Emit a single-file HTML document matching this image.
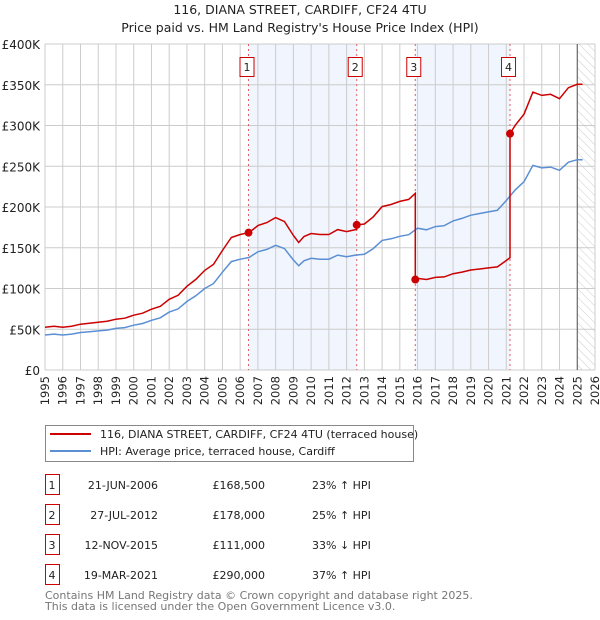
<!DOCTYPE html>
<html><head><meta charset="utf-8"><style>
body{margin:0;width:600px;height:620px;background:#fff;font-family:"DejaVu Sans","Liberation Sans",sans-serif;overflow:hidden}
svg{position:absolute;left:0;top:0}
</style></head><body>
<svg width="600" height="620" id="svg" font-family="DejaVu Sans, Liberation Sans, sans-serif">
<defs><pattern id="hatch" width="6" height="6" patternUnits="userSpaceOnUse" patternTransform="rotate(-45)"><line x1="0" y1="0" x2="0" y2="6" stroke="#ccc" stroke-width="1"/></pattern></defs>
<text x="300" y="14" text-anchor="middle" font-size="12.5" fill="#222">116, DIANA STREET, CARDIFF, CF24 4TU</text>
<text x="300" y="32" text-anchor="middle" font-size="12.5" fill="#222">Price paid vs. HM Land Registry's House Price Index (HPI)</text>
<g id="plot"></g>
<g>
<rect x="45.5" y="425.5" width="368" height="36" fill="#fff" stroke="#888"/>
<line x1="50" y1="434" x2="91" y2="434" stroke="#cc0000" stroke-width="2"/>
<text x="100" y="438" font-size="11" fill="#222">116, DIANA STREET, CARDIFF, CF24 4TU (terraced house)</text>
<line x1="50" y1="451" x2="91" y2="451" stroke="#5b8fd4" stroke-width="2"/>
<text x="100" y="455" font-size="11" fill="#222">HPI: Average price, terraced house, Cardiff</text>
</g>
<g id="table" font-size="11" fill="#222"></g>
<text x="45" y="599" font-size="11" fill="#777">Contains HM Land Registry data © Crown copyright and database right 2025.</text>
<text x="45" y="610" font-size="11" fill="#777">This data is licensed under the Open Government Licence v3.0.</text>
</svg>
<script>
const hpiYears=[1995,1995.5,1996,1996.5,1997,1997.5,1998,1998.5,1999,1999.5,2000,2000.5,2001,2001.5,2002,2002.5,2003,2003.5,2004,2004.5,2005,2005.5,2006,2006.5,2007,2007.5,2008,2008.5,2009,2009.3,2009.6,2010,2010.5,2011,2011.5,2012,2012.5,2013,2013.5,2014,2014.5,2015,2015.5,2016,2016.5,2017,2017.5,2018,2018.5,2019,2019.5,2020,2020.5,2021,2021.5,2022,2022.5,2023,2023.5,2024,2024.5,2025,2025.3];
const hpiValues=[43,44,43,44,46,47,48,49,51,52,55,57,61,64,71,75,84,91,100,106,120,133,136,138,145,148,153,149,135,128,134,137,136,136,141,139,141,142,149,159,161,164,166,174,172,176,177,183,186,190,192,194,196,208,221,231,251,248,249,245,255,258,258];
const saleDates=[2006.47,2012.57,2015.87,2021.21];
const salePrices=[168.5,178,111,290];
const saleLabels=["21-JUN-2006","27-JUL-2012","12-NOV-2015","19-MAR-2021"];
const salePriceText=["£168,500","£178,000","£111,000","£290,000"];
const saleHpiText=["23% ↑ HPI","25% ↑ HPI","33% ↓ HPI","37% ↑ HPI"];
const yTicks=[0,50,100,150,200,250,300,350,400];
const yTickLabels=["£0","£50K","£100K","£150K","£200K","£250K","£300K","£350K","£400K"];
const xTicks=[1995,1996,1997,1998,1999,2000,2001,2002,2003,2004,2005,2006,2007,2008,2009,2010,2011,2012,2013,2014,2015,2016,2017,2018,2019,2020,2021,2022,2023,2024,2025,2026];

const X0=45,X1=595,Y0=370,Y1=44;
const x=t=>X0+(t-1995)/31*(X1-X0);
const y=v=>Y0-v/400*(Y0-Y1);
const NS="http://www.w3.org/2000/svg";
const plot=document.getElementById('plot');
function mk(tag,attrs,parent){const e=document.createElementNS(NS,tag);for(const k in attrs)e.setAttribute(k,attrs[k]);(parent||plot).appendChild(e);return e;}
function hpiAt(t){for(let i=0;i<hpiYears.length-1;i++){if(t<=hpiYears[i+1]){const f=(t-hpiYears[i])/(hpiYears[i+1]-hpiYears[i]);return hpiValues[i]+f*(hpiValues[i+1]-hpiValues[i]);}}return hpiValues[hpiValues.length-1];}

for(let i=0;i<saleDates.length;i+=2){
 const r=mk('rect',{x:x(saleDates[i]),y:Y1,width:x(saleDates[i+1])-x(saleDates[i]),height:Y0-Y1,fill:'#eef3fd',opacity:0.8});
 
 
}
const hr=mk('rect',{x:x(2025),y:Y1,width:X1-x(2025),height:Y0-Y1,fill:'url(#hatch)'});


xTicks.forEach(t=>{const l=mk('line',{x1:x(t),x2:x(t),y1:Y1,y2:Y0,stroke:'#ccc','stroke-width':1});
 
 
 const tx=mk('text',{x:0,y:0,'text-anchor':'end','font-size':11.5,fill:'#222',transform:`translate(${x(t)+4},376) rotate(-90)`});tx.textContent=t;
 
 
});
yTicks.forEach((v,i)=>{const l=mk('line',{x1:X0,x2:X1,y1:y(v),y2:y(v),stroke:'#ccc','stroke-width':1});
 
 
 const tx=mk('text',{x:40,y:y(v)+5,'text-anchor':'end','font-size':12,fill:'#222'});tx.textContent=yTickLabels[i];
 
 
});
const nl=mk('line',{x1:x(2025),x2:x(2025),y1:Y1,y2:Y0,stroke:'#555','stroke-width':1});


saleDates.forEach((d,i)=>{const l=mk('line',{x1:x(d),x2:x(d),y1:Y1,y2:Y0,stroke:'#e06060','stroke-width':1,'stroke-dasharray':'2,3'});
 
 
 const b=mk('rect',{x:x(d)-8.5,y:57.5,width:14,height:19,fill:'#fff',stroke:'#cc0000'});
 
 
 const t=mk('text',{x:x(d)-1.5,y:71,'text-anchor':'middle','font-size':11,fill:'#222'});t.textContent=i+1;
 
 
});
let p=hpiYears.map((t,i)=>x(t).toFixed(1)+','+y(hpiValues[i]).toFixed(1)).join(' ');
const hl=mk('polyline',{points:p,fill:'none',stroke:'#5b8fd4','stroke-width':1.5});


const ratios=saleDates.map((d,i)=>salePrices[i]/hpiAt(d));
const pts=[];
const endT=hpiYears[hpiYears.length-1];
const bounds=[1995,...saleDates,endT];
for(let s=0;s<bounds.length-1;s++){
 const r=ratios[Math.max(0,s-1)];
 const a=bounds[s],b=bounds[s+1];
 const ts=[a,...hpiYears.filter(t=>t>a&&t<b),b];
 ts.forEach(t=>pts.push([x(t),y(hpiAt(t)*r)]));
}
const rl=mk('polyline',{points:pts.map(q=>q[0].toFixed(1)+','+q[1].toFixed(1)).join(' '),fill:'none',stroke:'#cc0000','stroke-width':1.5});


saleDates.forEach((d,i)=>{const c=mk('circle',{cx:x(d),cy:y(salePrices[i]),r:4,fill:'#cc0000'});
 
 
});
const tb=document.getElementById('table');
saleDates.forEach((d,i)=>{const cy=485+i*30;
 const b=mk('rect',{x:45.5,y:cy-10.5,width:14,height:20,fill:'#fff',stroke:'#cc0000'},tb);
 
 
 const cells=[[52,'middle',String(i+1),'table-row-number'],[158,'end',saleLabels[i],'table-date'],[265,'end',salePriceText[i],'table-price'],[312,'start',saleHpiText[i],'table-hpi-diff']];
 cells.forEach(c=>{const t=mk('text',{x:c[0],y:cy+4,'text-anchor':c[1]},tb);t.textContent=c[2];
  
  });
});
</script>
</body></html>
